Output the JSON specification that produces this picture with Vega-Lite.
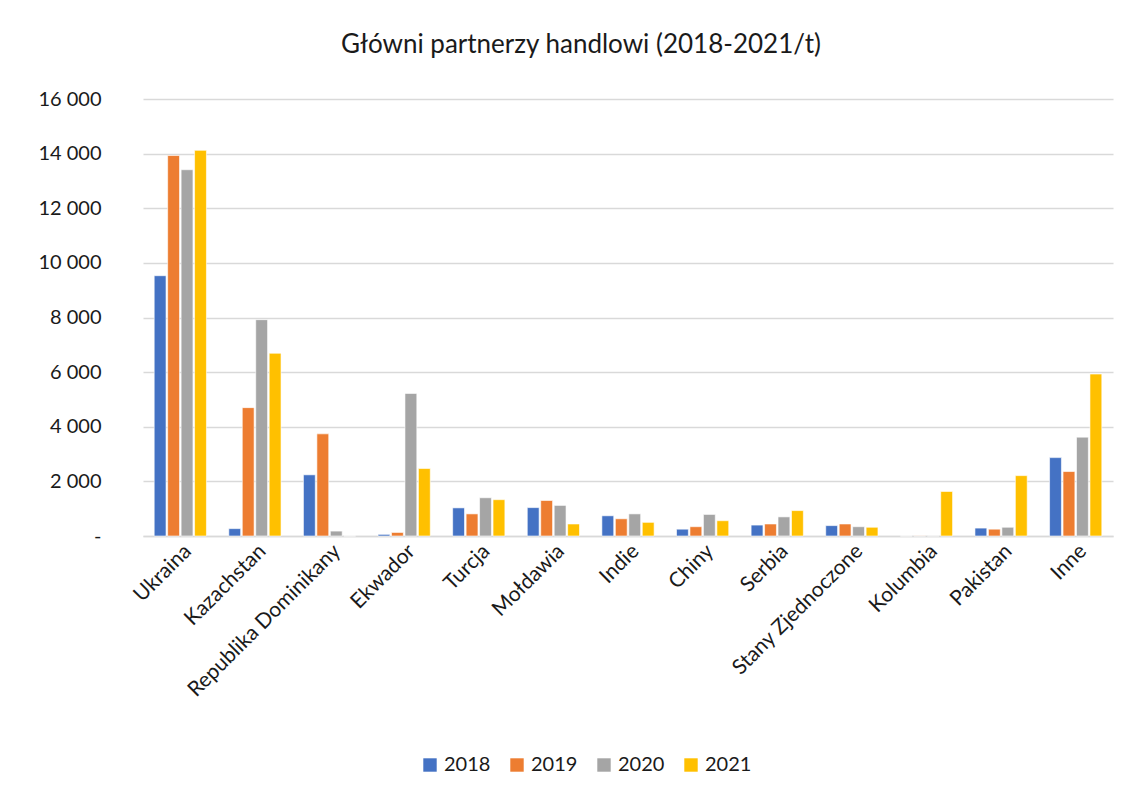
{
  "$schema": "https://vega.github.io/schema/vega-lite/v6.json",
  "autosize": "none",
  "width": 970,
  "height": 437,
  "padding": {"left": 143, "top": 99, "right": 30, "bottom": 262},
  "background": "white",
  "title": {
    "text": "Główni partnerzy handlowi (2018-2021/t)",
    "font": "Lato",
    "fontSize": 26,
    "fontWeight": "normal",
    "color": "#1a1a1a",
    "anchor": "middle",
    "dx": -47,
    "offset": 31
  },
  "data": {
    "values": [
      {"kraj": "Ukraina", "rok": "2018", "t": 9530},
      {"kraj": "Ukraina", "rok": "2019", "t": 13930},
      {"kraj": "Ukraina", "rok": "2020", "t": 13410},
      {"kraj": "Ukraina", "rok": "2021", "t": 14120},
      {"kraj": "Kazachstan", "rok": "2018", "t": 270},
      {"kraj": "Kazachstan", "rok": "2019", "t": 4700},
      {"kraj": "Kazachstan", "rok": "2020", "t": 7920},
      {"kraj": "Kazachstan", "rok": "2021", "t": 6690},
      {"kraj": "Republika Dominikany", "rok": "2018", "t": 2240},
      {"kraj": "Republika Dominikany", "rok": "2019", "t": 3740},
      {"kraj": "Republika Dominikany", "rok": "2020", "t": 180},
      {"kraj": "Republika Dominikany", "rok": "2021", "t": 0},
      {"kraj": "Ekwador", "rok": "2018", "t": 60},
      {"kraj": "Ekwador", "rok": "2019", "t": 130},
      {"kraj": "Ekwador", "rok": "2020", "t": 5220},
      {"kraj": "Ekwador", "rok": "2021", "t": 2470},
      {"kraj": "Turcja", "rok": "2018", "t": 1030},
      {"kraj": "Turcja", "rok": "2019", "t": 810},
      {"kraj": "Turcja", "rok": "2020", "t": 1400},
      {"kraj": "Turcja", "rok": "2021", "t": 1330},
      {"kraj": "Mołdawia", "rok": "2018", "t": 1040},
      {"kraj": "Mołdawia", "rok": "2019", "t": 1300},
      {"kraj": "Mołdawia", "rok": "2020", "t": 1120},
      {"kraj": "Mołdawia", "rok": "2021", "t": 440},
      {"kraj": "Indie", "rok": "2018", "t": 740},
      {"kraj": "Indie", "rok": "2019", "t": 630},
      {"kraj": "Indie", "rok": "2020", "t": 810},
      {"kraj": "Indie", "rok": "2021", "t": 500},
      {"kraj": "Chiny", "rok": "2018", "t": 250},
      {"kraj": "Chiny", "rok": "2019", "t": 340},
      {"kraj": "Chiny", "rok": "2020", "t": 790},
      {"kraj": "Chiny", "rok": "2021", "t": 560},
      {"kraj": "Serbia", "rok": "2018", "t": 400},
      {"kraj": "Serbia", "rok": "2019", "t": 440},
      {"kraj": "Serbia", "rok": "2020", "t": 700},
      {"kraj": "Serbia", "rok": "2021", "t": 930},
      {"kraj": "Stany Zjednoczone", "rok": "2018", "t": 380},
      {"kraj": "Stany Zjednoczone", "rok": "2019", "t": 440},
      {"kraj": "Stany Zjednoczone", "rok": "2020", "t": 340},
      {"kraj": "Stany Zjednoczone", "rok": "2021", "t": 320},
      {"kraj": "Kolumbia", "rok": "2018", "t": 0},
      {"kraj": "Kolumbia", "rok": "2019", "t": 5},
      {"kraj": "Kolumbia", "rok": "2020", "t": 5},
      {"kraj": "Kolumbia", "rok": "2021", "t": 1630},
      {"kraj": "Pakistan", "rok": "2018", "t": 290},
      {"kraj": "Pakistan", "rok": "2019", "t": 250},
      {"kraj": "Pakistan", "rok": "2020", "t": 320},
      {"kraj": "Pakistan", "rok": "2021", "t": 2210},
      {"kraj": "Inne", "rok": "2018", "t": 2870},
      {"kraj": "Inne", "rok": "2019", "t": 2360},
      {"kraj": "Inne", "rok": "2020", "t": 3620},
      {"kraj": "Inne", "rok": "2021", "t": 5930}
    ]
  },
  "mark": {"type": "bar", "stroke": "white", "strokeWidth": 1, "strokeOpacity": 0.6},
  "encoding": {
    "x": {
      "field": "kraj",
      "type": "nominal",
      "sort": null,
      "title": null,
      "scale": {"paddingInner": 0.3, "paddingOuter": 0.15},
      "axis": {
        "labelAngle": -45,
        "labelAlign": "right",
        "labelBaseline": "top",
        "labelFont": "Lato",
        "labelFontSize": 21,
        "labelColor": "#1a1a1a",
        "labelPadding": 4,
        "labelLimit": 0,
        "labelOverlap": false,
        "ticks": false,
        "domainColor": "#D9D9D9",
        "domainWidth": 1.5,
        "grid": false
      }
    },
    "xOffset": {"field": "rok", "type": "nominal", "scale": {"paddingInner": 0.12}},
    "y": {
      "field": "t",
      "type": "quantitative",
      "title": null,
      "scale": {"domain": [0, 16000], "nice": false},
      "axis": {
        "values": [0, 2000, 4000, 6000, 8000, 10000, 12000, 14000, 16000],
        "labelExpr": "datum.value == 0 ? '-' : replace(format(datum.value, ',d'), ',', ' ')",
        "labelFont": "Lato",
        "labelFontSize": 20,
        "labelColor": "#1a1a1a",
        "labelPadding": 42,
        "ticks": false,
        "domain": false,
        "gridColor": "#D9D9D9",
        "gridWidth": 1.5
      }
    },
    "color": {
      "field": "rok",
      "type": "nominal",
      "title": null,
      "scale": {"domain": ["2018", "2019", "2020", "2021"], "range": ["#4472C4", "#ED7D31", "#A5A5A5", "#FFC000"]},
      "legend": {
        "orient": "none",
        "direction": "horizontal",
        "legendX": 277,
        "legendY": 656,
        "symbolType": "square",
        "symbolSize": 180,
        "symbolStrokeWidth": 0,
        "labelFont": "Lato",
        "labelFontSize": 20,
        "labelColor": "#1a1a1a",
        "columnPadding": 16
      }
    }
  },
  "config": {"view": {"stroke": null}}
}
